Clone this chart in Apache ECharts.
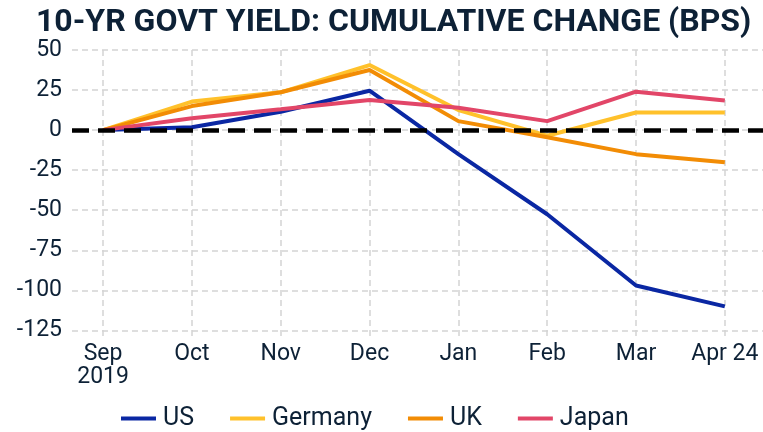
<!DOCTYPE html>
<html>
<head>
<meta charset="utf-8">
<script src="https://cdn.jsdelivr.net/npm/echarts@6/dist/echarts.min.js"></script>
<style>html,body{margin:0;padding:0;background:#fff}#c{width:763px;height:432px}</style>
</head>
<body>
<div id="c"></div>
<script>
const title = '10-YR GOVT YIELD: CUMULATIVE CHANGE (BPS)';
const categories = ['Sep\n2019', 'Oct', 'Nov', 'Dec', 'Jan', 'Feb', 'Mar', 'Apr 24'];
const yTicks = [-125, -100, -75, -50, -25, 0, 25, 50];
const us      = [0, 1.8, 11.5, 24.6, -15, -52.5, -97, -110];
const germany = [0, 17.8, 23.6, 40.6, 12.5, -3.5, 11, 11];
const uk      = [0, 15, 23.6, 37.5, 5.6, -4.5, -15, -20];
const japan   = [0, 7.4, 13, 18.8, 14, 5.6, 24, 18.5];

const txt = '#0d2136';
const font = 'Roboto';
const pos = categories.map((c, i) => i);
function pts(arr) { return arr.map((v, i) => [i, v]); }
function line(name, arr, color) {
  return { name, type: 'line', data: pts(arr), symbol: 'none', z: 3,
    lineStyle: { color, width: 4 }, itemStyle: { color } };
}
const chart = echarts.init(document.getElementById('c'), null, { renderer: 'canvas' });
chart.setOption({
  animation: false,
  backgroundColor: '#fff',
  title: { text: title, left: 31, top: 2,
    textStyle: { fontFamily: font, fontWeight: 'bold', fontSize: 32, color: txt } },
  grid: { left: 72, right: 0, top: 50, bottom: 92, containLabel: false },
  xAxis: {
    type: 'value', min: -0.35, max: 7.43,
    axisLine: { show: false },
    axisTick: { show: false, customValues: pos },
    splitLine: { show: true, lineStyle: { color: '#d4d4d4', width: 1.5, type: [6, 4] } },
    axisLabel: { customValues: pos, formatter: v => categories[Math.round(v)],
      color: txt, fontFamily: font, fontSize: 23, lineHeight: 23, margin: 3 }
  },
  yAxis: {
    type: 'value', min: -131, max: 50,
    axisLine: { show: false },
    axisTick: { show: false, customValues: yTicks },
    splitLine: { show: true, lineStyle: { color: '#d4d4d4', width: 1.5, type: [6, 4] } },
    axisLabel: { customValues: yTicks, color: txt, fontFamily: font, fontSize: 23, margin: 10 }
  },
  legend: {
    left: 116, top: 401, itemWidth: 35, itemHeight: 4, itemGap: 36,
    icon: 'rect',
    textStyle: { color: txt, fontFamily: font, fontSize: 25, padding: [0, 0, 0, 2] },
    data: ['US', 'Germany', 'UK', 'Japan']
  },
  series: [
    line('US', us, '#0a27a3'),
    line('Germany', germany, '#ffc12b'),
    line('UK', uk, '#f28c05'),
    line('Japan', japan, '#e24668'),
    { name: 'zero', type: 'line', data: [], z: 10, silent: true,
      markLine: { silent: true, symbol: 'none', z: 10, label: { show: false },
        lineStyle: { color: '#000', width: 4.5, type: [17, 9] },
        data: [{ yAxis: 0 }] } }
  ]
});
</script>
</body>
</html>
